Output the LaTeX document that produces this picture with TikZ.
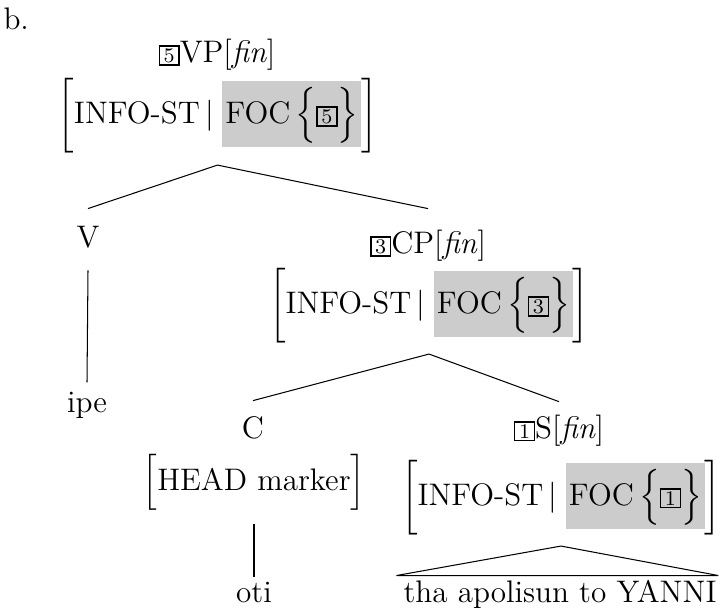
\documentclass[12pt,tikz,border=0pt]{standalone}
\usepackage{amsmath}
\usepackage{xcolor}
\usepackage{tikz}
\usetikzlibrary{positioning}

\definecolor{focgray}{gray}{0.8}

% boxed tag and the INFO-ST value with its shaded FOC part
\newcommand{\avmtag}[1]{{\setlength{\fboxsep}{0.6pt}\setlength{\fboxrule}{0.6pt}%
  \fbox{\makebox[5.8pt]{\scriptsize #1}}}}
\newcommand{\foc}[1]{{\setlength{\fboxsep}{0pt}\colorbox{focgray}{%
  \rule[-9.2pt]{0pt}{25.4pt}\kern1.2pt FOC$\,\Bigl\{\avmtag{#1}\Bigr\}$\kern1pt}}}
\newcommand{\infost}[1]{$\biggl[\text{INFO-ST}\,|\;\foc{#1}\biggr]$}

\begin{document}
\begin{tikzpicture}[x=0.385pt, y=-0.385pt,
    lbl/.style={inner sep=0pt, anchor=base, text height=9pt, text depth=3pt},
    avm/.style={inner sep=0pt, anchor=base}]
  \useasboundingbox (0,0) rectangle (720,612);

  \node[lbl, anchor=base west] (ex) at (3,29) {b.};

  % VP
  \node[lbl] (vp) at (217,62) {\avmtag{5}VP[\textit{fin}]};
  \node[avm] (vpavm) at (217.5,123) {\infost{5}};

  % V
  \node[lbl] (v) at (88,247) {V};
  \node[lbl] (ipe) at (87,412) {ipe};

  % CP
  \node[lbl] (cp) at (428,253) {\avmtag{3}CP[\textit{fin}]};
  \node[avm] (cpavm) at (429,313) {\infost{3}};

  % C
  \node[lbl] (c) at (253,438) {C};
  \node[avm] (head) at (254,490) {$\Bigl[\text{HEAD marker}\Bigr]$};
  \node[lbl] (oti) at (254,602) {oti};

  % S
  \node[lbl] (s) at (559,438) {\avmtag{1}S[\textit{fin}]};
  \node[avm] (savm) at (561,505) {\infost{1}};
  \node[lbl] (yanni) at (560,602) {tha apolisun to YANNI};

  \draw ([yshift=5.6pt]v.north) -- ([yshift=-4.6pt]vpavm.south) -- ([yshift=7.9pt]cp.north);
  \draw ([yshift=-5.8pt]v.south) -- ([yshift=2.2pt]ipe.north);
  \draw ([yshift=5.2pt]c.north) -- ([yshift=-4.2pt]cpavm.south) -- ([yshift=4.8pt]s.north);
  \draw ([yshift=-5pt]head.south) -- ([yshift=0.6pt]oti.north);
  \draw ([shift={(-2.5pt,1pt)}]yanni.north west) -- ([yshift=-4.2pt]savm.south)
    -- ([shift={(0.5pt,1pt)}]yanni.north east) -- cycle;
\end{tikzpicture}
\end{document}
